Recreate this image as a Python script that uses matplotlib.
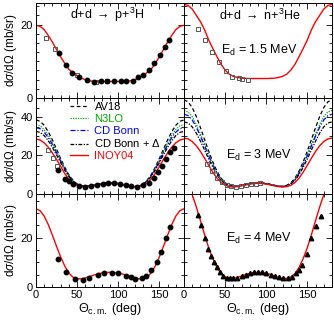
import numpy as np
import matplotlib.pyplot as plt

plt.rcParams['font.family'] = ['Liberation Sans', 'DejaVu Sans']
plt.rcParams['mathtext.fontset'] = 'custom'
plt.rcParams['mathtext.rm'] = 'Liberation Sans'
plt.rcParams['mathtext.it'] = 'Liberation Sans:italic'

# angle grid for the model curves (deg)
theta = np.arange(0, 181, 5)

# ---- E_d = 1.5 MeV ----
pt15_inoy = [19.8, 19.5, 18.6, 17.0, 15.2, 13.2, 11.2, 9.4, 7.8, 6.9, 6.1, 5.4, 5.0, 4.7, 4.5, 4.5, 4.5, 4.5, 4.5,
             4.5, 4.5, 4.5, 4.5, 4.7, 5.0, 5.4, 6.1, 6.9, 7.8, 9.4, 11.2, 13.2, 15.2, 17.0, 18.6, 19.5, 19.8]
nhe15_inoy = [25.5, 25.2, 24.2, 22.5, 20.8, 18.6, 15.8, 13.5, 11.3, 9.2, 7.6, 6.5, 5.9, 5.6, 5.4, 5.35, 5.3, 5.3, 5.3,
              5.3, 5.3, 5.35, 5.4, 5.6, 5.9, 6.5, 7.6, 9.2, 11.3, 13.5, 15.8, 18.6, 20.8, 22.5, 24.2, 25.2, 25.5]

pt15_circ_x = [27.6, 36, 43.4, 52, 61.6, 71, 78.7, 86.8, 94.9, 103, 110, 117.7, 124.5, 130.5, 137.9, 144, 151, 157, 162]
pt15_circ_y = [12.2, 8.9, 6.9, 5.6, 4.9, 4.4, 4.6, 4.6, 4.7, 4.7, 4.7, 4.7, 5.6, 6.3, 7.7, 9.6, 11.7, 13.9, 15.7]
pt15_sq_x = [12.2, 23, 49.5, 73, 86]
pt15_sq_y = [16.3, 13.4, 6.2, 4.3, 4.6]
nhe15_sq_x = [17.4, 25.5, 33.8, 42.6, 50.7, 58.8, 67, 71, 77.5]
nhe15_sq_y = [18.8, 15.9, 12.5, 9.7, 7.4, 5.8, 5.5, 5.3, 4.9]

# ---- E_d = 3 MeV ----
pt3_av18 = [38.5, 37.8, 35.7, 32.3, 28.0, 23.2, 18.3, 13.7, 9.8, 6.9, 5.0, 4.0, 3.7, 3.9, 4.3, 4.8, 5.2, 5.5, 5.6,
            5.5, 5.2, 4.8, 4.3, 3.9, 3.7, 4.0, 5.0, 6.9, 9.8, 13.7, 18.3, 23.2, 28.0, 32.3, 35.7, 37.8, 38.5]
pt3_n3lo = [36.0, 35.4, 33.5, 30.4, 26.5, 22.1, 17.5, 13.2, 9.5, 6.7, 4.9, 3.9, 3.7, 3.9, 4.3, 4.8, 5.2, 5.5, 5.6,
            5.5, 5.2, 4.8, 4.3, 3.9, 3.7, 3.9, 4.9, 6.7, 9.5, 13.2, 17.5, 22.1, 26.5, 30.4, 33.5, 35.4, 36.0]
pt3_cdb = [34.5, 33.9, 32.1, 29.2, 25.5, 21.3, 16.9, 12.8, 9.2, 6.5, 4.8, 3.9, 3.7, 3.9, 4.3, 4.8, 5.2, 5.5, 5.6,
           5.5, 5.2, 4.8, 4.3, 3.9, 3.7, 3.9, 4.8, 6.5, 9.2, 12.8, 16.9, 21.3, 25.5, 29.2, 32.1, 33.9, 34.5]
pt3_cdbd = [32.5, 32.0, 30.3, 27.6, 24.1, 20.2, 16.1, 12.2, 8.8, 6.3, 4.7, 3.9, 3.7, 3.9, 4.3, 4.8, 5.2, 5.5, 5.6,
            5.5, 5.2, 4.8, 4.3, 3.9, 3.7, 3.9, 4.7, 6.3, 8.8, 12.2, 16.1, 20.2, 24.1, 27.6, 30.3, 32.0, 32.5]
pt3_inoy = [28.5, 28.0, 26.5, 24.2, 21.2, 17.8, 14.2, 10.4, 7.6, 5.4, 4.3, 3.7, 3.5, 3.7, 4.1, 4.6, 5.0, 5.2, 5.3,
            5.2, 5.0, 4.6, 4.1, 3.7, 3.5, 3.7, 4.3, 5.4, 7.6, 10.4, 14.2, 17.8, 21.2, 24.2, 26.5, 28.0, 28.5]

nhe3_av18 = [49.0, 48.0, 45.0, 40.3, 34.5, 28.3, 22.2, 16.6, 11.8, 8.1, 5.6, 4.3, 3.8, 3.9, 4.3, 4.8, 5.3, 5.6, 5.7,
             5.6, 5.3, 4.8, 4.3, 3.9, 3.8, 4.3, 5.6, 8.1, 11.8, 16.6, 22.2, 28.3, 34.5, 40.3, 45.0, 48.0, 49.0]
nhe3_n3lo = [43.5, 42.7, 40.2, 36.2, 31.2, 25.8, 20.4, 15.4, 11.0, 7.6, 5.3, 4.1, 3.7, 3.8, 4.2, 4.7, 5.2, 5.5, 5.6,
             5.5, 5.2, 4.7, 4.2, 3.8, 3.7, 4.1, 5.3, 7.6, 11.0, 15.4, 20.4, 25.8, 31.2, 36.2, 40.2, 42.7, 43.5]
nhe3_cdb = [41.5, 40.8, 38.5, 34.7, 30.0, 24.9, 19.7, 14.9, 10.7, 7.4, 5.2, 4.0, 3.6, 3.8, 4.2, 4.7, 5.1, 5.4, 5.5,
            5.4, 5.1, 4.7, 4.2, 3.8, 3.6, 4.0, 5.2, 7.4, 10.7, 14.9, 19.7, 24.9, 30.0, 34.7, 38.5, 40.8, 41.5]
nhe3_cdbd = [37.5, 36.9, 34.9, 31.6, 27.4, 22.8, 18.1, 13.8, 9.9, 6.9, 4.9, 3.9, 3.6, 3.8, 4.2, 4.7, 5.1, 5.4, 5.5,
             5.4, 5.1, 4.7, 4.2, 3.8, 3.6, 3.9, 4.9, 6.9, 9.9, 13.8, 18.1, 22.8, 27.4, 31.6, 34.9, 36.9, 37.5]
nhe3_inoy = [29.0, 28.6, 27.2, 25.0, 22.0, 18.5, 14.8, 11.2, 8.1, 5.8, 4.3, 3.6, 3.4, 3.6, 4.0, 4.5, 4.9, 5.2, 5.3,
             5.2, 4.9, 4.5, 4.0, 3.6, 3.4, 3.6, 4.3, 5.8, 8.1, 11.2, 14.8, 18.5, 22.0, 25.0, 27.2, 28.6, 29.0]

pt3_circ_x = [27, 35, 40, 45, 52, 59, 67, 74, 81, 88, 95, 102, 109, 116, 123, 130, 137, 143, 148, 153, 158, 163, 168]
pt3_circ_y = [12.2, 7.8, 6.4, 4.9, 4.0, 3.6, 3.9, 4.5, 5.0, 5.5, 5.4, 5.0, 4.5, 3.9, 3.6, 4.2, 5.6, 8.0, 11.0, 14.5, 18.0, 21.5, 24.0]
pt3_sq_x = [14, 21, 25]
pt3_sq_y = [23.0, 18.5, 14.5]
nhe3_sq_x = [27.6, 33.6, 39.7, 45.7, 51.8, 57, 63, 69, 75, 81, 87, 93]
nhe3_sq_y = [15.2, 11.7, 8.1, 6.0, 4.6, 3.9, 3.6, 3.9, 4.4, 4.9, 5.2, 5.4]

# ---- E_d = 4 MeV ----
pt4_inoy = [31.8, 31.0, 28.8, 25.3, 21.0, 16.5, 12.2, 8.5, 5.7, 4.0, 3.3, 3.3, 3.7, 4.2, 4.8, 5.3, 5.7, 5.9, 6.0,
            5.9, 5.7, 5.3, 4.8, 4.2, 3.7, 3.3, 3.3, 4.0, 5.7, 8.5, 12.2, 16.5, 21.0, 25.3, 28.8, 31.0, 31.8]
nhe4_inoy = [42.0, 41.0, 37.5, 32.5, 27.0, 21.3, 16.0, 11.6, 8.0, 5.5, 4.1, 3.5, 3.5, 3.9, 4.5, 5.1, 5.6, 5.9, 6.0,
             5.9, 5.6, 5.1, 4.5, 3.9, 3.5, 3.5, 4.1, 5.5, 8.0, 11.6, 16.0, 21.3, 27.0, 32.5, 37.5, 41.0, 42.0]

pt4_circ_x = [27, 36.5, 47.4, 57.5, 65, 75, 83, 92, 100, 109.5, 115, 121, 129, 134, 140, 146.7, 152, 157.5, 163]
pt4_circ_y = [11.3, 6.0, 3.3, 2.9, 3.7, 5.0, 5.6, 5.8, 5.5, 4.6, 3.9, 3.3, 3.5, 4.6, 7.0, 10.3, 14.3, 19.8, 24.3]
nhe4_tri_x = [16.7, 20.3, 25.5, 29.6, 33, 36.5, 40, 44, 48, 52, 56, 60, 65, 70, 75, 80, 85, 90, 95, 100, 106,
              111, 116, 121, 126, 131, 136, 140, 144, 149, 155, 161, 167]
nhe4_tri_y = [29.4, 25.3, 19.9, 15.4, 12.5, 10.2, 8.0, 6.0, 4.6, 3.8, 3.5, 3.5, 3.7, 4.3, 4.9, 5.5, 5.9, 6.0, 6.0, 5.7, 5.0,
              4.5, 4.0, 3.6, 3.6, 4.2, 5.5, 7.0, 9.0, 13.6, 19.9, 24.6, 28.8]

fig = plt.figure(figsize=(3.34, 3.20), dpi=100)
W, H = 334.0, 320.0


def make_ax(x0, y_top, y_bot):
    return fig.add_axes([x0 / W, 1 - y_bot / H, 148 / W, (y_bot - y_top) / H])


rows = [(2.5, 98), (98, 193.5), (193.5, 287)]
ylims = [26, 50, 38]
axes = []
for r, (yt, yb) in enumerate(rows):
    pair = [make_ax(36, yt, yb), make_ax(184, yt, yb)]
    for c, ax in enumerate(pair):
        ax.set_xlim(0, 180)
        ax.set_ylim(0, ylims[r])
        ax.set_xticks([0, 50, 100, 150])
        ax.set_xticks(np.arange(0, 181, 10), minor=True)
        ax.set_yticks(np.arange(0, ylims[r] + 1, 20))
        ax.set_yticks(np.arange(0, ylims[r] + 0.1, 5 if r else 2.5), minor=True)
        ax.tick_params(which='both', direction='in', top=True, right=True, labelsize=8, pad=2, width=0.6)
        ax.tick_params(which='major', length=4)
        ax.tick_params(which='minor', length=2)
        for s in ax.spines.values():
            s.set_linewidth(0.7)
        if c == 1:
            ax.tick_params(labelleft=False)
        else:
            ax.set_ylabel(r'd$\sigma$/d$\Omega$ (mb/sr)', fontsize=8.5, labelpad=1)
        if r < 2:
            ax.tick_params(labelbottom=False)
        else:
            ax.set_xlabel(r'$\Theta_{\mathrm{c.m.}}$ (deg)', fontsize=9, labelpad=1)
    axes.append(pair)

red = '#ff0000'
green = '#00aa00'
blue = '#0000ff'
msz = 3.2

# top row
ax = axes[0][0]
ax.plot(theta, pt15_inoy, color=red, lw=1.0)
ax.plot(pt15_sq_x, pt15_sq_y, 's', mfc='none', mec='#555555', ms=msz, mew=0.7)
ax.plot(pt15_circ_x, pt15_circ_y, 'o', color='black', ms=msz)
ax.text(0.48, 0.87, r'd+d $\rightarrow$ p+$^3$H', transform=ax.transAxes, ha='center', va='center', fontsize=9)

ax = axes[0][1]
ax.plot(theta, nhe15_inoy, color=red, lw=1.0)
ax.plot(nhe15_sq_x, nhe15_sq_y, 's', mfc='none', mec='#555555', ms=msz, mew=0.7)
ax.text(0.51, 0.87, r'd+d $\rightarrow$ n+$^3$He', transform=ax.transAxes, ha='center', va='center', fontsize=9)
ax.text(0.51, 0.50, r'E$_\mathrm{d}$ = 1.5 MeV', transform=ax.transAxes, ha='center', va='center', fontsize=9)


def models(ax, av18, n3lo, cdb, cdbd, inoy):
    h1, = ax.plot(theta, av18, color='black', lw=0.9, dashes=(3, 2), label='AV18')
    h2, = ax.plot(theta, n3lo, color=green, lw=0.9, dashes=(1, 1), label='N3LO')
    h3, = ax.plot(theta, cdb, color=blue, lw=0.9, dashes=(4, 1.5, 1, 1.5), label='CD Bonn')
    h4, = ax.plot(theta, cdbd, color='black', lw=0.9, dashes=(3, 1.2, 1, 1.2), label=r'CD Bonn + $\Delta$')
    h5, = ax.plot(theta, inoy, color=red, lw=1.0, label='INOY04')
    return [h1, h2, h3, h4, h5]


ax = axes[1][0]
hs = models(ax, pt3_av18, pt3_n3lo, pt3_cdb, pt3_cdbd, pt3_inoy)
ax.plot(pt3_sq_x, pt3_sq_y, 's', mfc='none', mec='#555555', ms=msz, mew=0.7)
ax.plot(pt3_circ_x, pt3_circ_y, 'o', color='black', ms=msz)
leg = ax.legend(handles=hs, loc='upper left', bbox_to_anchor=(0.23, 0.96), frameon=False, fontsize=8,
                handlelength=1.6, handletextpad=0.6, labelspacing=0.17, borderpad=0, borderaxespad=0)
for t, col in zip(leg.get_texts(), ['black', green, blue, 'black', red]):
    t.set_color(col)

ax = axes[1][1]
models(ax, nhe3_av18, nhe3_n3lo, nhe3_cdb, nhe3_cdbd, nhe3_inoy)
ax.plot(nhe3_sq_x, nhe3_sq_y, 's', mfc='none', mec='#555555', ms=msz, mew=0.7)
ax.text(0.51, 0.40, r'E$_\mathrm{d}$ = 3 MeV', transform=ax.transAxes, ha='center', va='center', fontsize=9)

# bottom row
ax = axes[2][0]
ax.plot(theta, pt4_inoy, color=red, lw=1.0)
ax.plot(pt4_circ_x, pt4_circ_y, 'o', color='black', ms=msz)

ax = axes[2][1]
ax.plot(theta, nhe4_inoy, color=red, lw=1.0)
ax.plot(nhe4_tri_x, nhe4_tri_y, '^', color='black', ms=msz)
ax.text(0.51, 0.52, r'E$_\mathrm{d}$ = 4 MeV', transform=ax.transAxes, ha='center', va='center', fontsize=9)

fig.savefig('out.png', dpi=100)
